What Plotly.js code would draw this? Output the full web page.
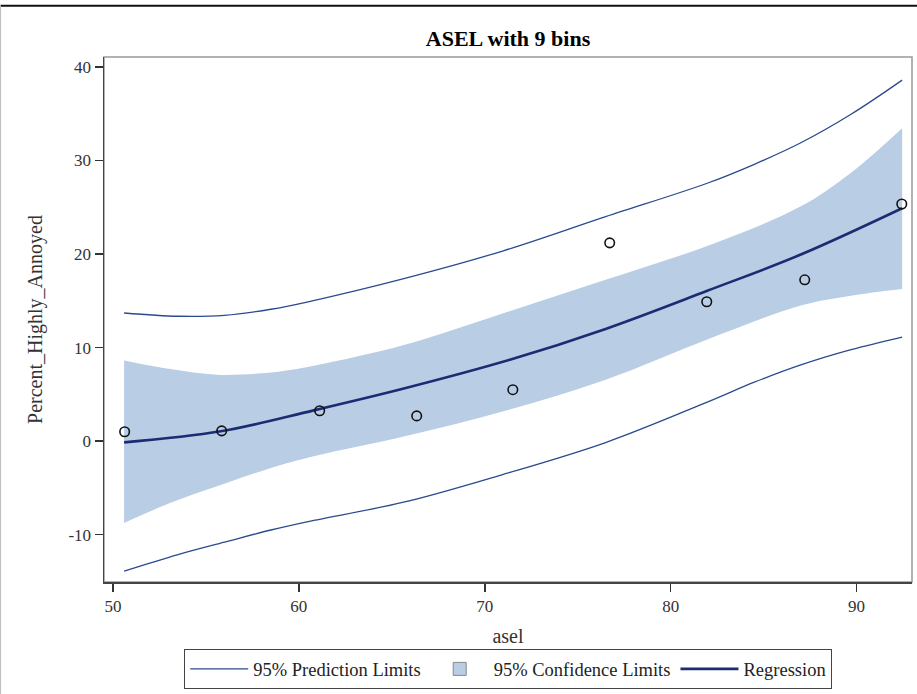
<!DOCTYPE html>
<html>
<head>
<meta charset="utf-8">
<script src="https://cdn.plot.ly/plotly-3.0.1.min.js"></script>
<style>html,body{margin:0;padding:0;background:#fff;}#chart{width:917px;height:694px;}</style>
</head>
<body>
<div id="chart"></div>
<script>
// Observed bins
const binX = [50.63, 55.85, 61.12, 66.34, 71.51, 76.72, 81.94, 87.21, 92.43];
const binY = [1.0, 1.1, 3.25, 2.7, 5.5, 21.2, 14.9, 17.25, 25.35];

// Regression curve
const regX = [50.6, 55.8, 60.8, 65.7, 71.35, 76.5, 82.0, 87.0, 92.45];
const regY = [-0.13, 1.05, 3.29, 5.65, 8.7, 12.0, 16.1, 19.95, 24.9];

// 95% confidence limits
const clX = [50.6, 53.1, 55.6, 58.5, 60.8, 65.7, 71.2, 76.5, 82.0, 87.0, 89.7, 92.45];
const clUpper = [8.63, 7.7, 7.1, 7.35, 8.07, 10.3, 13.8, 17.25, 20.9, 25.1, 28.7, 33.46];
const clLower = [-8.74, -6.6, -4.83, -2.87, -1.62, 0.51, 3.3, 6.57, 10.9, 14.5, 15.55, 16.26];

// 95% prediction limits
const plX = [50.6, 53.5, 56.0, 58.5, 60.5, 65.7, 71.0, 76.5, 82.0, 84.5, 87.0, 89.7, 92.45];
const plUpper = [13.7, 13.35, 13.45, 14.1, 14.9, 17.4, 20.35, 24.0, 27.6, 29.6, 31.9, 34.95, 38.6];
const plLower = [-13.9, -12.13, -10.8, -9.5, -8.6, -6.5, -3.55, -0.15, 4.2, 6.3, 8.15, 9.78, 11.13];

const xTicks = [50, 60, 70, 80, 90];
const xTickText = ['50', '60', '70', '80', '90'];
const yTicks = [-10, 0, 10, 20, 30, 40];
const yTickText = ['-10', '0', '10', '20', '30', '40'];

const serif = 'Liberation Serif, Times New Roman, serif';
const predColor = '#2b4a8e';
const regColor = '#1c2c72';
const fillColor = '#b9cde5';

const traces = [
  {x: clX, y: clLower, type: 'scatter', mode: 'lines', line: {width: 0, shape: 'spline'},
   showlegend: false, hoverinfo: 'skip'},
  {x: clX, y: clUpper, type: 'scatter', mode: 'lines', line: {width: 0, shape: 'spline'},
   fill: 'tonexty', fillcolor: fillColor, name: '95% Confidence Limits', showlegend: false},
  {x: [null], y: [null], type: 'scatter', mode: 'markers', name: '95% Confidence Limits',
   marker: {symbol: 'square', size: 13, color: fillColor, line: {color: '#888', width: 1}}, legendrank: 2},
  {x: plX, y: plUpper, type: 'scatter', mode: 'lines', line: {color: predColor, width: 1.3, shape: 'spline'},
   name: '95% Prediction Limits', legendgroup: 'pl', legendrank: 1},
  {x: plX, y: plLower, type: 'scatter', mode: 'lines', line: {color: predColor, width: 1.3, shape: 'spline'},
   name: '95% Prediction Limits', legendgroup: 'pl', showlegend: false},
  {x: regX, y: regY, type: 'scatter', mode: 'lines', line: {color: regColor, width: 2.6, shape: 'spline'},
   name: 'Regression', legendrank: 3},
  {x: binX, y: binY, type: 'scatter', mode: 'markers',
   marker: {symbol: 'circle-open', size: 9.5, color: '#111', line: {width: 1.6, color: '#111'}},
   showlegend: false, name: 'Percent_Highly_Annoyed'}
];

const layout = {
  width: 917, height: 694,
  paper_bgcolor: '#fff', plot_bgcolor: '#fff',
  margin: {l: 104, r: 5, t: 57, b: 112},
  font: {family: serif, size: 17, color: '#333'},
  title: {text: 'ASEL with 9 bins', font: {family: serif, size: 22, color: '#000', weight: 'bold'},
          x: 0.5, xref: 'paper', xanchor: 'center', y: 0.945, yanchor: 'middle'},
  xaxis: {range: [49.52, 92.98], tickvals: xTicks, ticktext: xTickText, ticks: 'outside', ticklen: 8, tickwidth: 1.5, tickcolor: '#333',
          showline: true, linecolor: '#444', linewidth: 1.5, showgrid: false, zeroline: false,
          tickfont: {family: serif, size: 17, color: '#333'},
          title: {text: 'asel', font: {family: serif, size: 20, color: '#333'}, standoff: 14}},
  yaxis: {range: [-15.06, 41.07], tickvals: yTicks, ticktext: yTickText, ticks: 'outside', ticklen: 8, tickwidth: 1.5, tickcolor: '#333',
          showline: true, linecolor: '#444', linewidth: 1.5, showgrid: false, zeroline: false,
          tickfont: {family: serif, size: 17, color: '#333'},
          title: {text: 'Percent_Highly_Annoyed', font: {family: serif, size: 20, color: '#333'}, standoff: 20}},
  legend: {orientation: 'h', x: 0.5, xanchor: 'center', y: -0.166, yanchor: 'middle',
           bordercolor: '#444', borderwidth: 1.2, bgcolor: '#fff',
           font: {family: serif, size: 18.5, color: '#222'}, itemwidth: 58, traceorder: 'normal'},
  shapes: [
    {type: 'rect', xref: 'paper', yref: 'paper', x0: 0, x1: 1, y0: 0, y1: 1,
     line: {color: '#999', width: 1.5}, fillcolor: 'rgba(0,0,0,0)', layer: 'below'},
    {type: 'line', xref: 'paper', yref: 'paper', x0: -0.128, x1: 1.01, y0: 1.0975, y1: 1.0975,
     line: {color: '#111', width: 2}},
    {type: 'line', xref: 'paper', yref: 'paper', x0: -0.128, x1: -0.128, y0: 1.0975, y1: -0.214,
     line: {color: '#bbb', width: 1}}
  ]
};

Plotly.newPlot('chart', traces, layout, {displayModeBar: false, staticPlot: true});
</script>
</body>
</html>
